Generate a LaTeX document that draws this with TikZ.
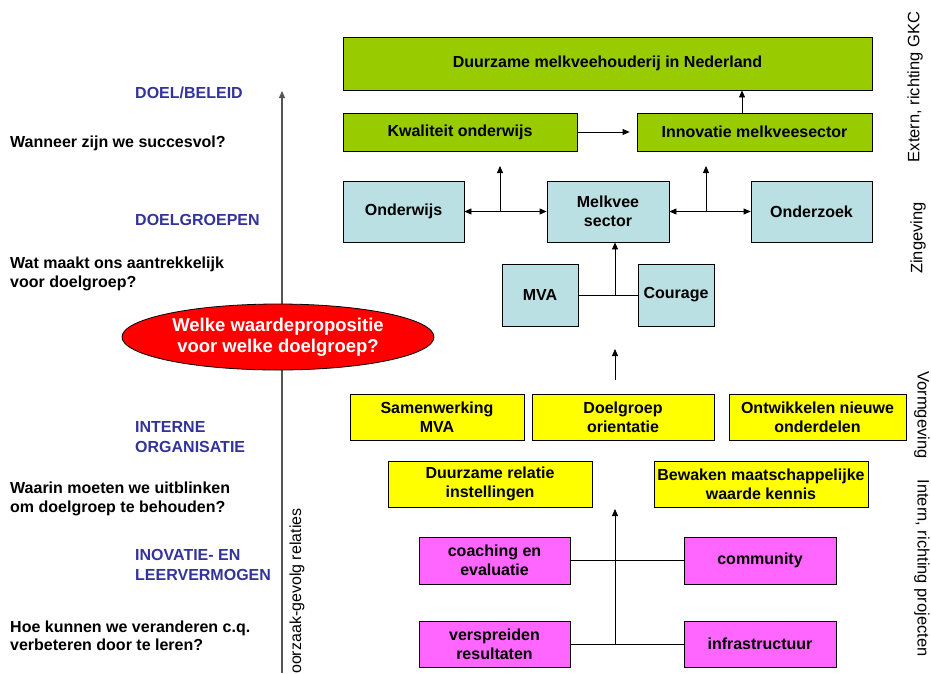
\documentclass[tikz,border=0pt]{standalone}
\usepackage{fontspec}
\setmainfont{Liberation Sans}
\usetikzlibrary{arrows.meta,shapes.geometric}
\definecolor{cgreen}{HTML}{99CC00}
\definecolor{cblue}{HTML}{BBE0E3}
\definecolor{cyellow}{HTML}{FFFF00}
\definecolor{cmag}{HTML}{FF66FF}
\definecolor{cred}{HTML}{FF0000}
\definecolor{chead}{HTML}{333399}
\definecolor{caxis}{HTML}{555555}
\newcommand\bx[7]{\node[#2, minimum width={#5-#3}, minimum height={#6-#4}] (#1) at ({(#3+#5)/2},{(#4+#6)/2}) {#7};}
\tikzset{
  box/.style={draw=black, line width=0.8pt, align=center, inner sep=0pt,
    font=\fontsize{16}{19}\selectfont\bfseries},
  gbox/.style={box, fill=cgreen},
  bbox/.style={box, fill=cblue},
  ybox/.style={box, fill=cyellow},
  mbox/.style={box, fill=cmag},
  arr/.style={-{Triangle[length=7pt,width=6pt]}, line width=0.8pt},
  darr/.style={{Triangle[length=7pt,width=6pt]}-{Triangle[length=7pt,width=6pt]}, line width=0.8pt},
  head/.style={anchor=west, align=left, inner sep=0pt, text=chead,
    font=\fontsize{16}{20}\selectfont\bfseries},
  quest/.style={anchor=west, align=left, inner sep=0pt, text=black,
    font=\fontsize{16}{18.5}\selectfont\bfseries},
  side/.style={inner sep=0pt, font=\fontsize{16.5}{18}\selectfont},
}
\begin{document}
\begin{tikzpicture}[x=1pt,y=-1pt]
\useasboundingbox (0,0) rectangle (931,673);
% axis (drawn first, the ellipse covers it)
\coordinate (ax0) at (282,673); \coordinate (ax1) at (282,91);
\draw[arr, draw=caxis, line width=1.2pt] (ax0) -- (ax1);
\node[side, rotate=90, anchor=west, font=\fontsize{16}{18}\selectfont] (oz) at (297,674) {oorzaak-gevolg relaties};
% green
\bx{top}{gbox}{343}{37}{872}{90}{Duurzame melkveehouderij in Nederland}
\bx{kw}{gbox}{343}{113}{577}{151}{Kwaliteit onderwijs}
\bx{inn}{gbox}{637}{113}{872}{151}{Innovatie melkveesector}
% blue
\bx{ond}{bbox}{343}{181}{464}{242}{Onderwijs}
\bx{mel}{bbox}{547}{181}{669}{242}{Melkvee\\sector}
\bx{onz}{bbox}{751}{181}{872}{242}{Onderzoek}
\bx{mva}{bbox}{502}{264}{578}{326}{MVA}
\bx{cou}{bbox}{638}{264}{714}{326}{Courage}
% ellipse
\node[ellipse, draw=black, line width=0.8pt, fill=cred, minimum width=312pt, minimum height=66pt,
  inner sep=0pt, align=center, text=white, font=\fontsize{18.5}{20.5}\selectfont\bfseries]
  (wp) at (278,337) {Welke waardepropositie\\voor welke doelgroep?};
% yellow
\bx{sam}{ybox}{350}{394}{524}{440}{Samenwerking\\MVA}
\bx{doe}{ybox}{532}{394}{714}{440}{Doelgroep\\orientatie}
\bx{ont}{ybox}{729}{394}{906}{440}{Ontwikkelen nieuwe\\onderdelen}
\bx{dur}{ybox}{388}{461}{592}{507}{Duurzame relatie\\instellingen}
\bx{bew}{ybox}{654}{461}{868}{507}{Bewaken maatschappelijke\\waarde kennis}
% magenta
\bx{coa}{mbox}{419}{537}{570}{584}{coaching en\\evaluatie}
\bx{com}{mbox}{684}{537}{836}{584}{community}
\bx{ver}{mbox}{419}{621}{570}{667}{verspreiden\\resultaten}
\bx{inf}{mbox}{684}{621}{836}{667}{infrastructuur}
% connectors
\coordinate (xa) at (742,0);
\draw[arr] (kw.east) -- ([xshift=-7pt]inn.west);
\draw[arr] (inn.north -| xa) -- (top.south -| xa);
\draw[darr] (ond.east) -- (mel.west);
\draw[darr] (mel.east) -- (onz.west);
\coordinate (j1) at (500,211.5); \coordinate (t1) at (500,166);
\coordinate (j2) at (706,211.5); \coordinate (t2) at (706,166);
\draw[arr] (j1) -- (t1);
\draw[arr] (j2) -- (t2);
\draw[line width=0.8pt] (mva.east) -- (cou.west);
\coordinate (j3) at (615,295);
\draw[arr] (j3) -- (mel.south -| j3);
\coordinate (a1) at (615,380); \coordinate (a2) at (615,349);
\draw[arr] (a1) -- (a2);
\draw[line width=0.8pt] (coa.east) -- (com.west);
\draw[line width=0.8pt] (ver.east) -- (inf.west);
\coordinate (j4) at (615,644); \coordinate (t4) at (615,509);
\draw[arr] (j4) -- (t4);
% left texts
\node[head] (h1) at (135,93) {DOEL/BELEID};
\node[quest] (q1) at (10,143) {Wanneer zijn we succesvol?};
\node[head] (h2) at (135,220) {DOELGROEPEN};
\node[quest] (q2) at (10,274) {Wat maakt ons aantrekkelijk\\voor doelgroep?};
\node[head] (h3) at (135,437) {INTERNE\\ORGANISATIE};
\node[quest] (q3) at (10,499) {Waarin moeten we uitblinken\\om doelgroep te behouden?};
\node[head] (h4) at (135,565) {INOVATIE- EN\\LEERVERMOGEN};
\node[quest] (q4) at (10,636) {Hoe kunnen we veranderen c.q.\\verbeteren door te leren?};
% right side texts
\node[side, rotate=90] (r1) at (915,87) {Extern, richting GKC};
\node[side, rotate=90] (r2) at (918,238) {Zingeving};
\node[side, rotate=-90] (r3) at (922,415) {Vormgeving};
\node[side, rotate=-90] (r4) at (922,568) {Intern, richting projecten};
\end{tikzpicture}
\end{document}
